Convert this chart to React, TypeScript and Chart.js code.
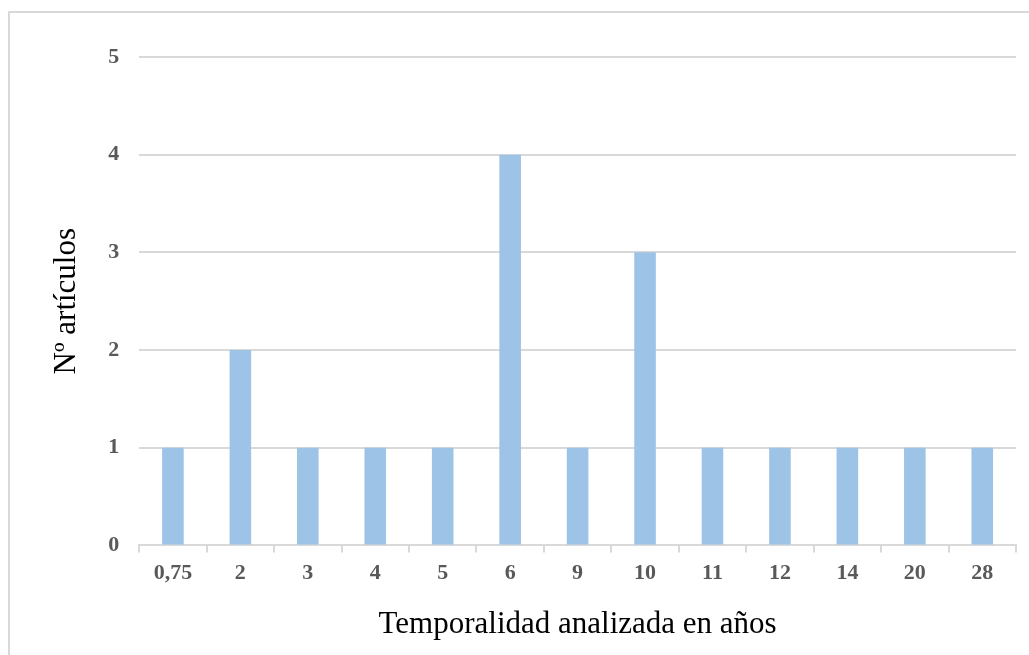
import React, { useEffect, useRef } from 'react';
import { Chart, registerables } from 'chart.js';

Chart.register(...registerables);

const years = ['0,75', '2', '3', '4', '5', '6', '9', '10', '11', '12', '14', '20', '28'];
const articles = [1, 2, 1, 1, 1, 4, 1, 3, 1, 1, 1, 1, 1];
const yTicks = [0, 1, 2, 3, 4, 5];

const gridColor = '#d9d9d9';
const tickColor = '#595959';

const App = () => {
  const chartRef = useRef<HTMLCanvasElement>(null);
  const chartInstance = useRef<Chart | null>(null);

  useEffect(() => {
    document.body.style.margin = '0';
    if (!chartRef.current) return;
    const ctx = chartRef.current.getContext('2d');
    if (!ctx) return;

    if (chartInstance.current) {
      chartInstance.current.destroy();
    }

    chartInstance.current = new Chart(ctx, {
      type: 'bar',
      data: {
        labels: years,
        datasets: [{
          data: articles,
          backgroundColor: '#9dc3e6',
          borderWidth: 0,
          categoryPercentage: 0.32,
          barPercentage: 1
        }]
      },
      options: {
        animation: false,
        responsive: true,
        maintainAspectRatio: false,
        layout: { padding: { left: 48, right: 13, top: 57, bottom: 12 } },
        plugins: {
          legend: { display: false },
          tooltip: { enabled: false }
        },
        scales: {
          x: {
            grid: {
              drawOnChartArea: false,
              color: gridColor,
              lineWidth: 2,
              tickLength: 7
            },
            border: { color: gridColor, width: 2 },
            ticks: {
              color: tickColor,
              font: { family: '"Liberation Serif", serif', size: 22, weight: 'bold' },
              padding: 8
            },
            title: {
              display: true,
              text: 'Temporalidad analizada en años',
              color: '#000',
              font: { family: '"Liberation Serif", serif', size: 31 },
              padding: { top: 11, bottom: 0 }
            }
          },
          y: {
            min: 0,
            max: 5,
            afterBuildTicks: (axis: any) => {
              axis.ticks = yTicks.map((v) => ({ value: v }));
            },
            grid: {
              color: gridColor,
              lineWidth: 2,
              drawTicks: false
            },
            border: { display: false },
            ticks: {
              color: tickColor,
              font: { family: '"Liberation Serif", serif', size: 22, weight: 'bold' },
              padding: 20
            },
            title: {
              display: true,
              text: 'Nº artículos',
              color: '#000',
              font: { family: '"Liberation Serif", serif', size: 31 },
              padding: { top: 0, bottom: 3 }
            }
          }
        }
      }
    });

    return () => {
      if (chartInstance.current) {
        chartInstance.current.destroy();
        chartInstance.current = null;
      }
    };
  }, []);

  return (
    <div style={{ position: 'fixed', left: 0, top: 0, width: 1029, height: 655, background: '#fff', overflow: 'hidden' }}>
      <div style={{ position: 'absolute', left: 8, top: 11, width: 1040, height: 660, border: '2px solid #d9d9d9', boxSizing: 'border-box' }} />
      <div style={{ position: 'absolute', left: 0, top: 0, width: 1029, height: 655 }}>
        <canvas ref={chartRef} />
      </div>
    </div>
  );
};

export default App;
